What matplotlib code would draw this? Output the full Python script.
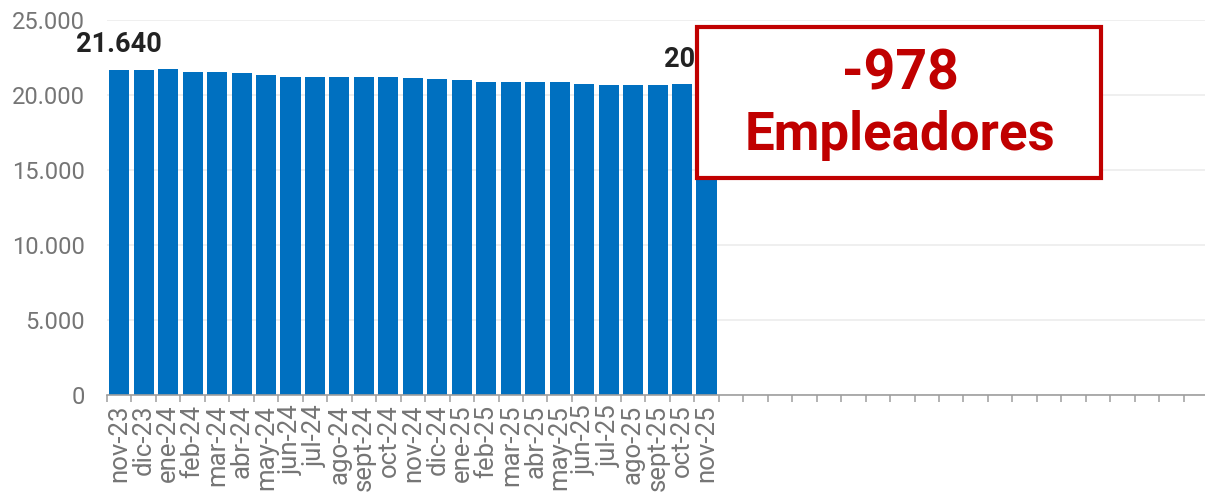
import matplotlib.pyplot as plt
from matplotlib.patches import Rectangle
from matplotlib.ticker import FuncFormatter

plt.rcParams['font.family'] = ['Roboto', 'DejaVu Sans']

months = ["nov-23", "dic-23", "ene-24", "feb-24", "mar-24", "abr-24", "may-24",
          "jun-24", "jul-24", "ago-24", "sept-24", "oct-24", "nov-24", "dic-24",
          "ene-25", "feb-25", "mar-25", "abr-25", "may-25", "jun-25", "jul-25",
          "ago-25", "sept-25", "oct-25", "nov-25"]
empleadores = [21640, 21690, 21740, 21560, 21530, 21450, 21330,
               21200, 21200, 21190, 21200, 21190, 21130, 21090,
               21000, 20900, 20890, 20890, 20845, 20755, 20670,
               20670, 20665, 20710, 20662]
n_slots = 45  # empty categories continue to the right
labelled = [0, 24]
cambio = empleadores[-1] - empleadores[0]

blue = "#0070C0"
red = "#C00000"
gray = "#757575"

fig = plt.figure(figsize=(12.05, 4.96), dpi=100)
ax = fig.add_axes([107 / 1205, 101 / 496, (n_slots * 24.47) / 1205, 375 / 496])

x = list(range(len(months)))
ax.bar(x, empleadores, width=0.82, color=blue, zorder=3)

for i in labelled:
    ax.annotate(f"{empleadores[i]:,}".replace(",", "."), (x[i], empleadores[i]),
                xytext=(0, 13), textcoords="offset points", ha="center",
                va="baseline", fontsize=19.5, fontweight="bold", color="#222222",
                zorder=4)

ax.set_xlim(-0.5, n_slots - 0.5)
ax.set_ylim(0, 25000)
ax.set_yticks(range(0, 25001, 5000))
ax.yaxis.set_major_formatter(FuncFormatter(lambda v, p: f"{int(v):,}".replace(",", ".")))
ax.set_xticks(x)
ax.set_xticklabels(months, rotation=90)
ax.set_xticks([i - 0.5 for i in range(n_slots + 1)], minor=True)

ax.tick_params(axis="y", length=0, pad=16, labelsize=17, labelcolor=gray)
ax.tick_params(axis="x", which="major", length=0, pad=7, labelsize=18.5, labelcolor=gray)
ax.tick_params(axis="x", which="minor", length=5, width=1.1, color="#9e9e9e")

ax.grid(axis="y", color="#ececec", linewidth=1.2, zorder=0)
for s in ["top", "right", "left"]:
    ax.spines[s].set_visible(False)
ax.spines["bottom"].set_color("#9e9e9e")
ax.spines["bottom"].set_linewidth(1.2)
ax.spines["bottom"].set_zorder(5)

# annotation box
box = Rectangle((697 / 1205, 318 / 496), 404 / 1205, 151 / 496,
                transform=fig.transFigure, facecolor="white", edgecolor=red,
                linewidth=3, zorder=10)
fig.patches.append(box)
fig.text(900 / 1205, 406 / 496, f"{cambio:,}".replace(",", "."), ha="center",
         va="baseline", fontsize=40, fontweight="bold", color=red, zorder=11)
fig.text(900 / 1205, 346 / 496, "Empleadores", ha="center", va="baseline",
         fontsize=38, fontweight="bold", color=red, zorder=11)

fig.savefig("out.png", dpi=100)
